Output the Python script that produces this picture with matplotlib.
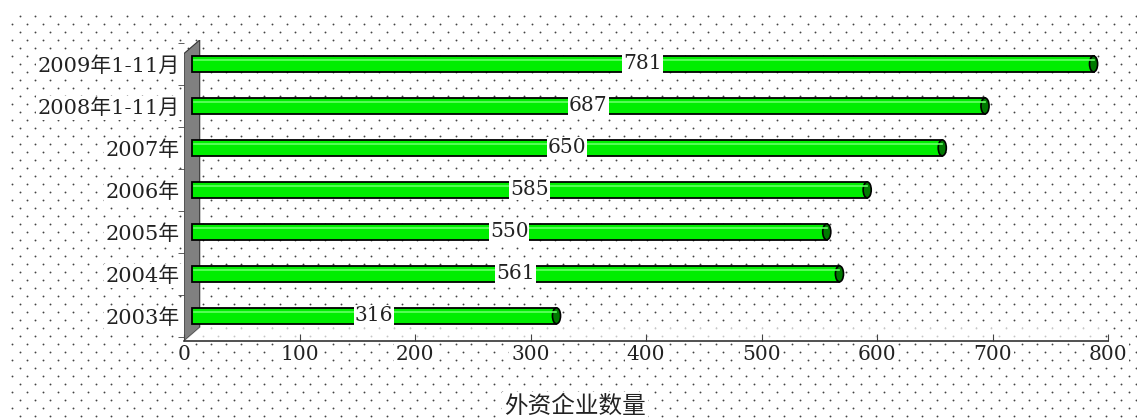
import matplotlib
matplotlib.use("Agg")
import matplotlib.pyplot as plt
import numpy as np
from matplotlib.patches import Ellipse, Polygon

categories = ["2003年", "2004年", "2005年", "2006年", "2007年", "2008年1-11月", "2009年1-11月"]
values = [316, 561, 550, 585, 650, 687, 781]
xticks = [0, 100, 200, 300, 400, 500, 600, 700, 800]
xlabel = "外资企业数量"

FAM = ["DejaVu Serif", "Noto Sans CJK SC"]

W, H = 1137, 418
fig = plt.figure(figsize=(W / 100, H / 100), dpi=100)

# dotted background
bg = fig.add_axes([0, 0, 1, 1])
bg.set_xlim(0, W)
bg.set_ylim(H, 0)
bg.axis("off")
xs, ys = [], []
for r, y in enumerate(np.arange(16, H, 8)):
    off = 0 if r % 2 == 0 else -7.6
    for x in np.arange(19.5 + off, W, 15.3):
        xs.append(x)
        ys.append(y)
bg.scatter(xs, ys, s=1.8, color="#444444", linewidths=0)

left, right, top, bottom = 184, 1108, 40, 341
ax = fig.add_axes([left / W, 1 - bottom / H, (right - left) / W, (bottom - top) / H])
ax.patch.set_alpha(0)
ax.set_xlim(0, 800)
ax.set_ylim(-0.6, 6.57)

# 3D wall on left
wall = Polygon([(0, 0), (0.017, 0.045), (0.017, 1.0), (0, 0.955)], closed=True,
               transform=ax.transAxes, facecolor="#808080", edgecolor="#333333", lw=0.8)
ax.add_patch(wall)
floor = Polygon([(0, 0), (0.017, 0.045), (1.0, 0.045), (0.983, 0)], closed=True,
                transform=ax.transAxes, facecolor="white", edgecolor="none", alpha=0.7)
ax.add_patch(floor)

ypos = np.arange(len(categories))
off = 6.5
h = 0.38
ax.barh(ypos, values, left=off, height=h, color="#00ee00", edgecolor="black", linewidth=1.3, zorder=3)
for y, v in zip(ypos, values):
    ax.add_patch(Ellipse((v + off, y), width=7, height=h, facecolor="#007a00",
                         edgecolor="black", lw=1.2, zorder=4))
    ax.plot([off + 2, v + off], [y + h * 0.25, y + h * 0.25], color="#66ff66", lw=1.2, zorder=4)
    ax.text(off + v / 2, y, str(v), ha="center", va="center", family=FAM, fontsize=14.5,
            color="#222222", zorder=5,
            bbox=dict(boxstyle="square,pad=0.05", facecolor="white", edgecolor="none"))

wbox = dict(boxstyle="square,pad=0.1", facecolor="white", edgecolor="none")
ax.set_yticks(ypos)
ax.set_yticklabels(categories, family=FAM, fontsize=15, color="#222222")
ax.set_xticks(xticks)
ax.set_xticklabels([str(t) for t in xticks], family=FAM, fontsize=14.5, color="#222222")
for lab in ax.get_yticklabels() + ax.get_xticklabels():
    lab.set_bbox(wbox)
ax.set_yticks(np.arange(-0.5, 6.6, 1), minor=True)
ax.tick_params(axis="y", which="major", length=0, pad=3)
ax.tick_params(axis="y", which="minor", length=4, color="#444444")
ax.tick_params(axis="x", length=5, direction="in", color="#444444", pad=3)
for s in ["top", "right", "left"]:
    ax.spines[s].set_visible(False)
ax.spines["bottom"].set_color("#333333")
ax.spines["bottom"].set_linewidth(1.2)

fig.text(575 / W, 1 - 406 / H, xlabel, ha="center", va="center", family=["Noto Sans CJK SC"],
         fontsize=17, color="#222222", bbox=wbox)

fig.savefig("out.png", dpi=100)
